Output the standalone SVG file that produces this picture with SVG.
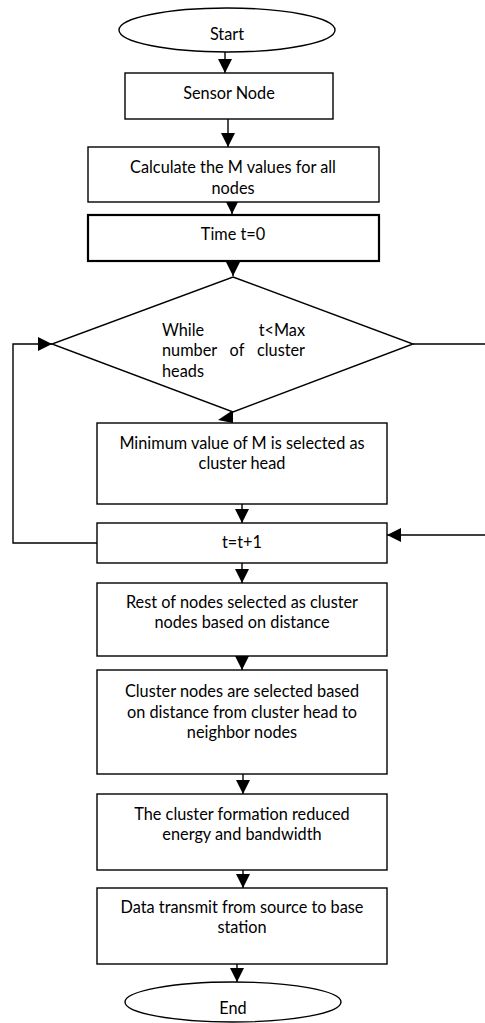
<svg xmlns="http://www.w3.org/2000/svg" width="485" height="1023" viewBox="0 0 485 1023">
<style>
.s{fill:#fff;stroke:#000;stroke-width:1.4}
.b{stroke-width:2.2}
.t{font-family:Lato,"Liberation Sans",Arial,sans-serif;font-size:16.3px;fill:#000;text-anchor:middle}
.c{fill:none;stroke:#000;stroke-width:1.4}
.h{fill:#000}
</style>
<defs>
<marker id="a" markerWidth="14" markerHeight="14" viewBox="0 0 14 14" refX="14" refY="7" orient="auto" markerUnits="userSpaceOnUse"><path d="M0,0 L14,7 L0,14 Z" class="h"/></marker>
</defs>
<rect width="485" height="1023" fill="#fff"/>
<g id="connectors">
<line class="c" x1="225" y1="52" x2="225" y2="73" marker-end="url(#a)"/>
<line class="c" x1="228" y1="119" x2="228" y2="147" marker-end="url(#a)"/>
<line class="c" x1="232" y1="202" x2="232" y2="214" marker-end="url(#a)"/>
<line class="c" x1="233" y1="261" x2="233" y2="276" marker-end="url(#a)"/>
<polygon class="h" points="233,410 218,420 233,423"/>
<polyline class="c" points="97,543 13,543 13,344 52,344" marker-end="url(#a)"/>
<polyline class="c" points="413,344 487,344 487,535 387,535" marker-end="url(#a)"/>
<line class="c" x1="242" y1="504" x2="242" y2="523" marker-end="url(#a)"/>
<line class="c" x1="242" y1="563" x2="242" y2="583" marker-end="url(#a)"/>
<line class="c" x1="242" y1="656" x2="242" y2="670" marker-end="url(#a)"/>
<line class="c" x1="243" y1="774" x2="243" y2="794" marker-end="url(#a)"/>
<line class="c" x1="243" y1="870" x2="243" y2="888" marker-end="url(#a)"/>
<line class="c" x1="237" y1="964" x2="237" y2="982" marker-end="url(#a)"/>
</g>
<g id="start">
<ellipse class="s" cx="227" cy="30" rx="108" ry="22"/>
<text class="t" x="227" y="40">Start</text>
</g>
<g id="sensor">
<rect class="s" x="125" y="73" width="208" height="46"/>
<text class="t" x="229" y="99">Sensor Node</text>
</g>
<g id="calc">
<rect class="s" x="88" y="147" width="291" height="55"/>
<text class="t" x="233" y="173">Calculate the M values for all</text>
<text class="t" x="233" y="194">nodes</text>
</g>
<g id="time">
<rect class="s b" x="88" y="215" width="291" height="46"/>
<text class="t" x="233" y="240">Time t=0</text>
</g>
<g id="while">
<polygon class="s" points="233,277 413,344 233,412 52,344"/>
<text class="t" x="162" y="336" style="text-anchor:start">While</text>
<text class="t" x="305" y="336" style="text-anchor:end">t&lt;Max</text>
<text class="t" x="162" y="356" style="text-anchor:start">number</text>
<text class="t" x="237" y="356">of</text>
<text class="t" x="305" y="356" style="text-anchor:end">cluster</text>
<text class="t" x="162" y="377" style="text-anchor:start">heads</text>
</g>
<g id="minimum">
<rect class="s" x="97" y="423" width="290" height="81"/>
<text class="t" x="242" y="449">Minimum value of M is selected as</text>
<text class="t" x="242" y="469">cluster head</text>
</g>
<g id="incr">
<rect class="s" x="97" y="523" width="290" height="40"/>
<text class="t" x="242" y="548">t=t+1</text>
</g>
<g id="rest">
<rect class="s" x="97" y="583" width="290" height="73"/>
<text class="t" x="242" y="608">Rest of nodes selected as cluster</text>
<text class="t" x="242" y="628">nodes based on distance</text>
</g>
<g id="clusternodes">
<rect class="s" x="97" y="670" width="290" height="104"/>
<text class="t" x="242" y="697">Cluster nodes are selected based</text>
<text class="t" x="242" y="718">on distance from cluster head to</text>
<text class="t" x="242" y="738">neighbor nodes</text>
</g>
<g id="formation">
<rect class="s" x="97" y="794" width="290" height="76"/>
<text class="t" x="242" y="820">The cluster formation reduced</text>
<text class="t" x="242" y="840">energy and bandwidth</text>
</g>
<g id="transmit">
<rect class="s" x="97" y="888" width="290" height="76"/>
<text class="t" x="242" y="913">Data transmit from source to base</text>
<text class="t" x="242" y="933">station</text>
</g>
<g id="end">
<ellipse class="s" cx="233" cy="1002" rx="108" ry="20"/>
<text class="t" x="233" y="1014">End</text>
</g>
</svg>
